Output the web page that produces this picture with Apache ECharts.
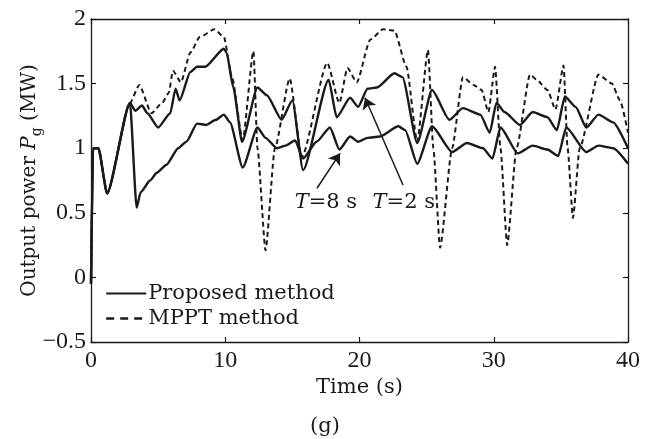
<!DOCTYPE html>
<html>
<head>
<meta charset="utf-8">
<script src="https://cdn.jsdelivr.net/npm/echarts@6/dist/echarts.min.js"></script>
<style>
  html, body { margin: 0; padding: 0; background: #fff; }
  #chart { width: 659px; height: 439px; }
</style>
</head>
<body>
<div id="chart"></div>
<script>
// time (s) / output power (MW)
const tMppt = [0, 0.15, 0.55, 1.2, 2.9, 3.6, 4.5, 5.3, 5.8, 6.1, 6.7, 7.4, 8.1, 9.2, 9.9, 10.5, 11.3, 12.1, 12.4, 13.0, 13.7, 14.8,
  15.7, 17.6, 18.5, 19.1, 19.8, 20.8, 21.75, 22.6, 23.5, 24.3, 25.1, 25.5, 26.0, 26.9, 27.7, 28.5, 29.1, 29.6, 30.1,
  30.5, 31.0, 31.7, 32.7, 33.2, 34.0, 34.6, 35.2, 35.5, 35.9, 36.4, 37.8, 38.8, 39.4, 40]
const pMppt = [-0.05, 1.0, 1.0, 0.65, 1.35, 1.49, 1.27, 1.35, 1.43, 1.6, 1.51, 1.74, 1.86, 1.92, 1.86, 1.55, 1.06, 1.75, 1.0, 0.21, 1.0, 1.54,
  0.93, 1.66, 1.35, 1.62, 1.51, 1.84, 1.92, 1.91, 1.63, 1.05, 1.76, 1.0, 0.23, 1.0, 1.55, 1.49, 1.45, 1.28, 1.63,
  1.0, 0.25, 1.0, 1.57, 1.53, 1.45, 1.3, 1.64, 1.0, 0.46, 1.0, 1.57, 1.5, 1.37, 1.12]

const tT2 = [0, 0.15, 0.55, 1.2, 2.9, 3.3, 3.8, 4.2, 5.0, 5.9, 6.3, 6.6, 7.4, 7.9, 8.5, 9.9, 10.1, 10.6, 11.25, 12.4, 13.1, 14.2, 15.0,
  15.8, 17.7, 18.3, 19.3, 19.9, 20.6, 21.3, 22.6, 23.2, 24.3, 25.4, 26.7, 27.7, 29.0, 29.7, 30.2, 30.8, 31.95, 32.9,
  34.0, 34.7, 35.3, 36.1, 36.9, 37.8, 38.9, 40]
const pT2 = [-0.05, 1.0, 1.0, 0.65, 1.35, 1.29, 1.33, 1.27, 1.16, 1.27, 1.46, 1.37, 1.59, 1.63, 1.63, 1.77, 1.74, 1.47, 1.05, 1.47, 1.41, 1.22, 1.37,
  0.83, 1.53, 1.24, 1.39, 1.32, 1.46, 1.47, 1.58, 1.55, 1.04, 1.45, 1.22, 1.31, 1.26, 1.12, 1.35, 1.28, 1.18, 1.28,
  1.24, 1.14, 1.4, 1.32, 1.16, 1.26, 1.2, 1.0]

const tT8 = [0, 0.15, 0.55, 1.2, 2.9, 3.4, 3.7, 4.4, 4.9, 5.6, 6.5, 7.1, 7.9, 8.6, 9.3, 9.9, 10.35, 11.3, 12.4, 13.0, 13.85, 14.5,
  15.2, 15.8, 16.8, 17.8, 18.5, 19.3, 19.9, 20.6, 21.5, 22.9, 23.4, 24.3, 25.4, 26.9, 28.0, 29.2, 29.9, 30.5, 31.8,
  32.9, 34.0, 34.8, 35.4, 36.9, 37.8, 38.9, 40]
const pT8 = [-0.05, 1.0, 1.0, 0.65, 1.35, 0.54, 0.66, 0.75, 0.81, 0.87, 1.0, 1.05, 1.19, 1.18, 1.22, 1.26, 1.2, 0.85, 1.16, 1.08, 1.0, 1.02,
  1.06, 0.92, 1.05, 1.16, 0.99, 1.09, 1.05, 1.08, 1.09, 1.17, 1.14, 0.88, 1.17, 0.97, 1.04, 1.0, 0.92, 1.16, 0.96,
  1.02, 0.99, 0.94, 1.16, 0.97, 1.02, 1.0, 0.88]

const legendNames = ['Proposed method', 'MPPT method']
// arrows and their labels, in data units
const arrowT8 = [[16.83, 0.69], [18.55, 0.96]]
const arrowT2 = [[23.24, 0.715], [20.41, 1.39]]
const labelT8 = [17.5, 0.58]
const labelT2 = [23.3, 0.58]

const NUM_FONT = 'Liberation Serif'
const FONT = 'DejaVu Serif'
const INK = '#1a1a1a'

const zip = (t, p) => t.map((x, i) => [x, p[i]])

const chart = echarts.init(document.getElementById('chart'))

const axisCommon = {
  axisLine: { show: true, onZero: false, lineStyle: { color: INK, width: 1.3 } },
  axisTick: { show: true, inside: true, length: 5, lineStyle: { color: INK, width: 1.2 } },
  splitLine: { show: false }
}

chart.setOption({
  animation: false,
  grid: { left: 91, right: 31, top: 19, bottom: 97, containLabel: false },
  legend: {
    data: [
      { name: legendNames[0] },
      { name: legendNames[1], lineStyle: { type: [8, 6], width: 2.4 } }
    ],
    orient: 'vertical',
    left: 100,
    top: 278,
    itemWidth: 40,
    itemHeight: 12,
    itemGap: 4,
    selectedMode: false,
    itemStyle: { opacity: 0 },
    textStyle: { fontFamily: FONT, fontSize: 21, color: INK, padding: [0, 0, 0, -3] }
  },
  xAxis: [{
    type: 'value', min: 0, max: 40, interval: 10,
    ...axisCommon,
    name: 'Time (s)',
    nameLocation: 'middle',
    nameGap: 35,
    nameMoveOverlap: false,
    nameTextStyle: { fontFamily: FONT, fontSize: 21, color: INK },
    axisLabel: { fontFamily: NUM_FONT, fontSize: 24, color: INK, margin: 7 }
  }, {
    type: 'value', min: 0, max: 40, interval: 10, position: 'top',
    ...axisCommon,
    axisLabel: { show: false }
  }],
  yAxis: [{
    type: 'value', min: -0.5, max: 2, interval: 0.5,
    ...axisCommon,
    name: '{a|Output power }{i|P}{s|g}{a| (MW)}',
    nameLocation: 'middle',
    nameRotate: 90,
    nameGap: 47,
    nameMoveOverlap: false,
    nameTextStyle: {
      color: INK,
      rich: {
        a: { fontFamily: FONT, fontSize: 20, color: INK, lineHeight: 28 },
        i: { fontFamily: FONT, fontSize: 20, fontStyle: 'italic', color: INK, lineHeight: 28 },
        s: { fontFamily: FONT, fontSize: 14, color: INK, lineHeight: 12, verticalAlign: 'bottom' }
      }
    },
    axisLabel: {
      fontFamily: NUM_FONT, fontSize: 24, color: INK, margin: 5,
      formatter: v => String(v).replace('-', '\u2212')
    }
  }, {
    type: 'value', min: -0.5, max: 2, interval: 0.5, position: 'right',
    ...axisCommon,
    axisLabel: { show: false }
  }],
  series: [{
    name: 'MPPT method',
    type: 'line',
    data: zip(tMppt, pMppt),
    symbol: 'none',
    smooth: 0.2,
    smoothMonotone: 'x',
    z: 3,
    lineStyle: { color: INK, width: 2, type: [5, 3.5] },
    itemStyle: { color: INK }
  }, {
    name: 'Proposed method',
    type: 'line',
    data: zip(tT2, pT2),
    symbol: 'none',
    smooth: 0.2,
    smoothMonotone: 'x',
    z: 4,
    lineStyle: { color: INK, width: 2.4 },
    itemStyle: { color: INK }
  }, {
    name: 'Proposed method',
    type: 'line',
    data: zip(tT8, pT8),
    symbol: 'none',
    smooth: 0.2,
    smoothMonotone: 'x',
    z: 4,
    lineStyle: { color: INK, width: 2.4 },
    itemStyle: { color: INK },
    markLine: {
      silent: true,
      symbol: ['none', 'arrow'],
      symbolSize: 11,
      label: { show: false },
      lineStyle: { type: 'solid', color: INK, width: 1.5 },
      data: [
        [{ coord: arrowT8[0] }, { coord: arrowT8[1] }],
        [{ coord: arrowT2[0] }, { coord: arrowT2[1] }]
      ]
    },
    markPoint: {
      silent: true,
      symbol: 'circle',
      symbolSize: 1,
      itemStyle: { color: 'rgba(0,0,0,0)' },
      label: {
        show: true,
        position: 'inside',
        color: INK,
        rich: {
          i: { fontFamily: FONT, fontSize: 21, fontStyle: 'italic', color: INK },
          n: { fontFamily: FONT, fontSize: 21, color: INK }
        }
      },
      data: [
        { coord: labelT8, label: { formatter: '{i|T}{n|=8 s}' } },
        { coord: labelT2, label: { formatter: '{i|T}{n|=2 s}' } }
      ]
    }
  }],
  graphic: [{
    type: 'text',
    left: 310,
    top: 416,
    style: { text: '(g)', fontFamily: FONT, fontSize: 21, fill: INK }
  }]
})
</script>
</body>
</html>
